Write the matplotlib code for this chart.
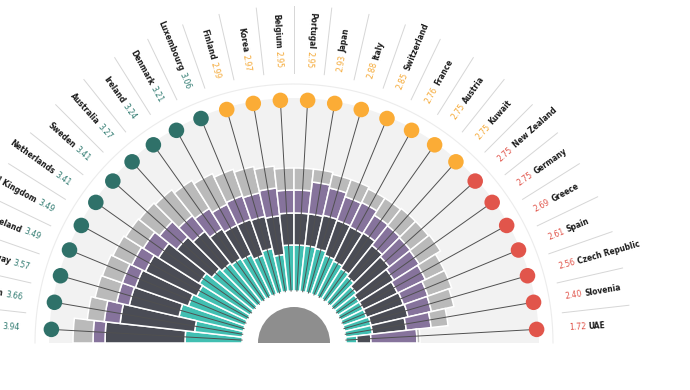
import numpy as np
import matplotlib.pyplot as plt
from matplotlib import font_manager

# country order as drawn, left (180 deg) to right (0 deg)
countries = ['United States', 'Taiwan', 'Norway', 'Iceland', 'United Kingdom',
             'Netherlands', 'Sweden', 'Australia', 'Ireland', 'Denmark',
             'Luxembourg', 'Finland', 'Korea', 'Belgium', 'Portugal', 'Japan',
             'Italy', 'Switzerland', 'France', 'Austria', 'Kuwait',
             'New Zealand', 'Germany', 'Greece', 'Spain', 'Czech Republic',
             'Slovenia', 'UAE']
scores = [3.94, 3.66, 3.57, 3.49, 3.49, 3.41, 3.41, 3.27, 3.24, 3.21, 3.06,
          2.99, 2.97, 2.95, 2.95, 2.93, 2.88, 2.85, 2.76, 2.75, 2.75,
          2.75, 2.75, 2.69, 2.61, 2.56, 2.40, 1.72]
groups = ['high'] * 11 + ['mid'] * 10 + ['low'] * 7

# stacked bar segments (inner -> outer)
seg_teal = [57, 48, 66, 60, 56, 60, 53, 50, 48, 46, 41, 45, 37, 46, 46, 46,
            45, 41, 39, 36, 33, 28, 25, 25, 25, 27, 27, 11]
seg_dark = [80, 75, 51, 56, 57, 48, 45, 41, 35, 33, 38, 33, 39, 32, 32, 32,
            34, 37, 38, 42, 40, 42, 41, 38, 39, 38, 34, 14]
seg_purple = [12, 16, 13, 14, 15, 18, 22, 20, 24, 23, 25, 24, 28, 23, 23, 32,
              28, 25, 27, 21, 25, 27, 30, 31, 26, 24, 25, 46]
seg_gray = [20, 17, 22, 21, 21, 21, 26, 33, 33, 34, 28, 27, 22, 22, 22, 13,
            14, 18, 15, 20, 22, 23, 25, 21, 25, 23, 17, 3]

dot_col = {'high': '#2f7169', 'mid': '#fbac36', 'low': '#e1554b'}
val_col = {'high': '#2f7a70', 'mid': '#f5a936', 'low': '#e1554b'}

names = {f.name for f in font_manager.fontManager.ttflist}
if 'Liberation Sans Narrow' in names:
    fam, stretch = 'Liberation Sans Narrow', 'normal'
else:
    fam, stretch = 'DejaVu Sans', 'condensed'

W, H = 690, 390
cx, cy = 294, 47          # centre of the half circle, px from bottom-left
R = 400
fig = plt.figure(figsize=(W / 100, H / 100), dpi=100)
ax = fig.add_axes([(cx - R) / W, (cy - R) / H, 2 * R / W, 2 * R / H],
                  projection='polar')
ax.set_ylim(0, R)
ax.axis('off')

n = len(countries)
step = np.pi / n
theta = np.pi - (np.arange(n) + 0.5) * step
r0 = 52

# background
ax.bar(np.pi / 2, 36, width=np.pi, bottom=0, color='#8e8e8e', zorder=1)
ax.bar(np.pi / 2, 245 - r0, width=np.pi, bottom=r0, color='#f2f2f2', zorder=1)
arc = np.linspace(0, np.pi, 300)
ax.plot(arc, np.full_like(arc, 259), color='#ececec', lw=0.8, zorder=1)

# stacked bars
bottom = np.full(n, r0, dtype=float)
for seg, c in [(seg_teal, '#41bfb2'), (seg_dark, '#4a4c55'),
               (seg_purple, '#86739c'), (seg_gray, '#bababa')]:
    ax.bar(theta, seg, width=step, bottom=bottom, color=c,
           edgecolor='white', linewidth=1.1, zorder=2)
    bottom += np.array(seg)

# pins
for t in theta:
    ax.plot([t, t], [r0, 243], color='#505050', lw=0.7, zorder=3)
ax.scatter(theta, np.full(n, 243), s=125,
           c=[dot_col[g] for g in groups], zorder=4, linewidths=0)

# separators
for k in range(1, n):
    tb = np.pi - k * step
    ax.plot([tb, tb], [270, 337], color='#d6d6d6', lw=0.7, zorder=1)

# labels
for i, t in enumerate(theta):
    deg = np.degrees(t)
    left = i <= 14
    rot = deg - 180 if left else deg
    ha = 'right' if left else 'left'
    ax.text(t, 275, f'{scores[i]:.2f}', rotation=rot, rotation_mode='anchor',
            ha=ha, va='center', fontsize=6.2, color=val_col[groups[i]],
            family=fam, fontstretch=stretch)
    ax.text(t, 295, countries[i], rotation=rot, rotation_mode='anchor',
            ha=ha, va='center', fontsize=6.0, color='#1a1a1a',
            fontweight='bold', family=fam, fontstretch=stretch)

fig.savefig('out.png', dpi=100)
